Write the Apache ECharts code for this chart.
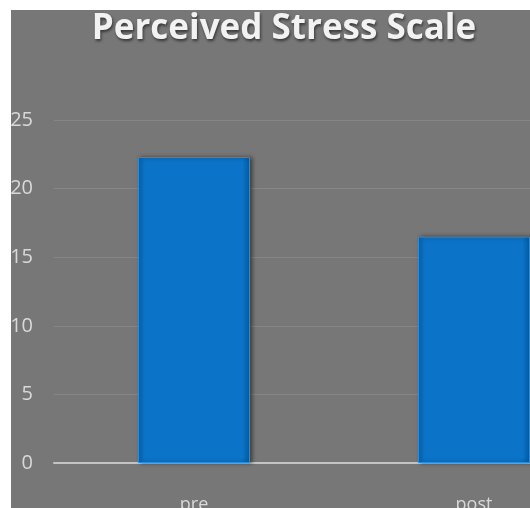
<!DOCTYPE html>
<html>
<head>
<meta charset="utf-8">
<script src="https://cdn.jsdelivr.net/npm/echarts@6/dist/echarts.min.js"></script>
<style>
  html, body { margin: 0; padding: 0; background: #ffffff; width: 530px; height: 508px; overflow: hidden; }
  #chart { position: absolute; left: 11px; top: 10px; width: 519px; height: 498px; background: #777777; }
</style>
</head>
<body>
<div id="chart"></div>
<script>
// Perceived Stress Scale scores, before and after
const categories = ['pre', 'post'];
const scores = [22.3, 16.5];
const yTicks = { min: 0, max: 25, interval: 5 };

const chart = echarts.init(document.getElementById('chart'), null, { renderer: 'canvas' });

chart.setOption({
  backgroundColor: '#777777',
  animation: false,
  title: {
    text: 'Perceived Stress Scale',
    left: 268,
    top: -3,
    textAlign: 'center',
    textStyle: {
      color: '#f2f2f2',
      fontFamily: 'Open Sans',
      fontWeight: 'bold',
      fontSize: 35,
      textShadowColor: 'rgba(0,0,0,0.55)',
      textShadowBlur: 3,
      textShadowOffsetX: 1,
      textShadowOffsetY: 2
    }
  },
  grid: {
    left: 43,
    top: 110,
    width: 560,
    bottom: 45,
    outerBoundsMode: 'none',
    containLabel: false
  },
  xAxis: {
    type: 'category',
    data: categories,
    axisTick: { show: false },
    axisLine: { show: true, lineStyle: { color: '#c4c4c4', width: 2 } },
    axisLabel: {
      color: '#d9d9d9',
      fontFamily: 'Open Sans',
      fontSize: 18,
      margin: 33
    }
  },
  yAxis: {
    type: 'value',
    min: yTicks.min,
    max: yTicks.max,
    interval: yTicks.interval,
    axisLine: { show: false },
    axisTick: { show: false },
    splitLine: { lineStyle: { color: '#868686', width: 1 } },
    axisLabel: {
      color: '#d9d9d9',
      fontFamily: 'Open Sans',
      fontSize: 20,
      margin: 21
    }
  },
  series: [{
    type: 'bar',
    data: scores,
    barWidth: '40%',
    itemStyle: {
      color: {
        type: 'linear', x: 0, y: 0, x2: 1, y2: 0,
        colorStops: [
          { offset: 0, color: '#0a66b6' },
          { offset: 0.05, color: '#0b74c9' },
          { offset: 0.93, color: '#0b74c9' },
          { offset: 1, color: '#075a9e' }
        ]
      },
      borderColor: '#2a8ddc',
      borderWidth: 1,
      shadowColor: 'rgba(0,0,0,0.45)',
      shadowBlur: 4,
      shadowOffsetX: 2,
      shadowOffsetY: 0
    }
  }]
});
</script>
</body>
</html>
